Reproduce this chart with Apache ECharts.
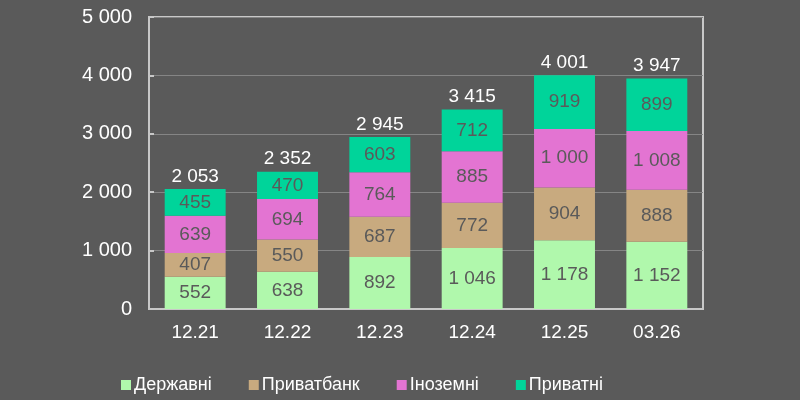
<!DOCTYPE html>
<html><head><meta charset="utf-8">
<script src="https://cdn.jsdelivr.net/npm/echarts@6/dist/echarts.min.js"></script>
<style>html,body{margin:0;padding:0;background:#5a5a5a;}#c{width:800px;height:400px;}</style>
</head><body><div id="c"></div>
<script>
const categories = ['12.21','12.22','12.23','12.24','12.25','03.26'];
const derzhavni = [552, 638, 892, 1046, 1178, 1152];
const pryvatbank = [407, 550, 687, 772, 904, 888];
const inozemni = [639, 694, 764, 885, 1000, 1008];
const pryvatni = [455, 470, 603, 712, 919, 899];
const totals = [2053, 2352, 2945, 3415, 4001, 3947];
const seriesNames = ['Державні','Приватбанк','Іноземні','Приватні'];
const colors = ['#b0f8ac','#c8aa7f','#e374d2','#00d49a'];

const fmt = v => String(Math.round(v)).replace(/\B(?=(\d{3})+(?!\d))/g, ' ');
const FONT = 'Liberation Sans, Arial, sans-serif';

const dataSets = [derzhavni, pryvatbank, inozemni, pryvatni];
const series = dataSets.map((d, i) => ({
  name: seriesNames[i], type: 'bar', stack: 's', data: d, barWidth: '66%',
  itemStyle: { color: colors[i] },
  label: { show: true, position: 'inside', color: '#5a5a5a', fontSize: 19, fontFamily: FONT,
           formatter: p => fmt(p.value) }
}));
series.push({
  name: 'total', type: 'bar', stack: 's', data: totals.map(() => 0), barWidth: '66%',
  itemStyle: { color: 'transparent' }, tooltip: { show: false },
  label: { show: true, position: 'top', distance: 3, color: '#ffffff', fontSize: 19, fontFamily: FONT,
           formatter: p => fmt(totals[p.dataIndex]) }
});

const chart = echarts.init(document.getElementById('c'));
chart.setOption({
  backgroundColor: '#5a5a5a',
  animation: false,
  color: colors,
  grid: { left: 149, right: 97, top: 17, bottom: 91, show: true, borderColor: '#c8c8c8', borderWidth: 2 },
  legend: {
    data: seriesNames, left: 116, top: 371, itemWidth: 10, itemHeight: 10, itemGap: 37,
    icon: 'rect', textStyle: { color: '#ffffff', fontSize: 18, fontFamily: FONT, padding: [0,0,0,-2] }
  },
  xAxis: {
    type: 'category', data: categories,
    axisLine: { lineStyle: { color: '#c8c8c8', width: 2 } },
    axisTick: { inside: true, length: 5, lineStyle: { color: '#c8c8c8', width: 2 } },
    axisLabel: { color: '#ffffff', fontSize: 19, fontFamily: FONT, margin: 14 }
  },
  yAxis: {
    type: 'value', min: 0, max: 5000, interval: 1000,
    axisLine: { show: true, lineStyle: { color: '#c8c8c8', width: 2 } },
    axisTick: { show: true, inside: true, length: 5, lineStyle: { color: '#c8c8c8', width: 2 } },
    splitLine: { lineStyle: { color: '#858585', width: 1 } },
    axisLabel: { color: '#ffffff', fontSize: 20, fontFamily: FONT, margin: 17, formatter: v => fmt(v) }
  },
  series: series
});
</script></body></html>
